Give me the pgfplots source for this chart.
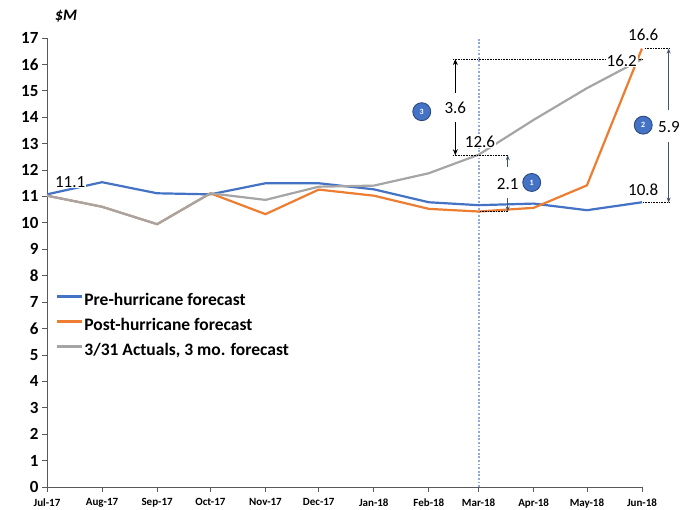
\documentclass[border=0pt]{standalone}
\usepackage{pgfplots}
\pgfplotsset{compat=1.18}
\usepackage{fontspec}
\setmainfont{Carlito}
\usetikzlibrary{arrows.meta}
\definecolor{cblue}{HTML}{4472C4}
\definecolor{corange}{HTML}{ED7D31}
\definecolor{cgray}{HTML}{A5A5A5}
\definecolor{darrow}{HTML}{44546A}
\definecolor{vline}{HTML}{8FAADC}
\begin{document}
\begin{tikzpicture}[x=1pt,y=1pt]
\begin{axis}[
  scale only axis, width=595pt, height=449pt,
  xmin=0, xmax=335, ymin=0, ymax=17,
  axis x line*=bottom, axis y line*=left,
  axis line style={black!65, line width=0.8pt},
  xtick={0,31,62,92,123,153,184,215,243,274,304,335},
  xticklabels={Jul-17,Aug-17,Sep-17,Oct-17,Nov-17,Dec-17,Jan-18,Feb-18,Mar-18,Apr-18,May-18,Jun-18},
  ytick={0,1,...,17},
  tick align=outside, major tick length=5pt,
  tick style={black!65, line width=0.8pt},
  xticklabel style={font=\bfseries\fontsize{11}{11}\selectfont, yshift=-3pt},
  yticklabel style={font=\bfseries\fontsize{17}{17}\selectfont},
  /pgf/number format/assume math mode=true,
  clip=false,
  legend cell align=left,
  legend style={at={(axis cs:4.5,7.36)}, anchor=north west, draw=none, fill=none,
    inner sep=0pt, row sep=7pt,
    font=\bfseries\fontsize{17.5}{17.5}\selectfont,
    nodes={inner sep=1pt, text height=12pt, text depth=4pt},
    /tikz/every even column/.append style={column sep=2pt}},
  legend image code/.code={\draw[#1] (0pt,5.5pt) -- (25pt,5.5pt);},
  legend image post style={line width=3.2pt},
]
\draw[vline, line width=1.8pt, dash pattern=on 1.8pt off 1.8pt] (axis cs:243,0) -- (axis cs:243,17);
\addplot[cblue, line width=2.2pt] coordinates {
 (0,11.08) (31,11.54) (62,11.12) (92,11.08) (123,11.5) (153,11.5) (184,11.27) (215,10.78) (243,10.67) (274,10.73) (304,10.48) (335,10.78)};
\addlegendentry{Pre-hurricane forecast}
\addplot[corange, line width=2.2pt] coordinates {
 (0,11.03) (31,10.61) (62,9.95) (92,11.12) (123,10.33) (153,11.26) (184,11.03) (215,10.53) (243,10.43) (274,10.57) (304,11.42) (335,16.6)};
\addlegendentry{Post-hurricane forecast}
\addplot[cgray, line width=2.2pt] coordinates {
 (0,11.03) (31,10.61) (62,9.95) (92,11.12) (123,10.87) (153,11.37) (184,11.41) (215,11.88) (243,12.58) (274,13.9) (304,15.1) (335,16.2)};
\addlegendentry{3/31 Actuals, 3 mo. forecast}
% dotted guide lines
\draw[black, line width=0.6pt, densely dotted] (axis cs:228.6,16.2) -- (axis cs:335,16.2);
\draw[black, line width=0.6pt, densely dotted] (axis cs:228.6,12.56) -- (axis cs:259.6,12.56);
\draw[black, line width=0.6pt, densely dotted] (axis cs:243.8,10.43) -- (axis cs:259.6,10.43);
\draw[black, line width=0.6pt, densely dotted] (axis cs:336.7,16.6) -- (axis cs:350.8,16.6);
\draw[black, line width=0.6pt, densely dotted] (axis cs:335.6,10.77) -- (axis cs:350.8,10.77);
% arrows
\draw[black, line width=1pt, -{Stealth[length=6pt,width=5pt]}] (axis cs:229.9,14.92) -- (axis cs:229.9,16.2);
\draw[black, line width=1pt, -{Stealth[length=6pt,width=5pt]}] (axis cs:229.9,13.83) -- (axis cs:229.9,12.56);
\draw[darrow, line width=0.8pt, -{Stealth[length=5pt,width=4pt]}] (axis cs:259.4,12.12) -- (axis cs:259.4,12.56);
\draw[darrow, line width=0.8pt, -{Stealth[length=5pt,width=4pt]}] (axis cs:259.4,10.94) -- (axis cs:259.4,10.43);
\draw[darrow, line width=0.8pt, -{Stealth[length=5pt,width=4pt]}] (axis cs:350,14.27) -- (axis cs:350,16.6);
\draw[darrow, line width=0.8pt, -{Stealth[length=5pt,width=4pt]}] (axis cs:350,13.07) -- (axis cs:350,10.77);
% labels
\tikzset{lab/.style={font=\fontsize{17}{17}\selectfont, inner sep=1pt, fill=white}}
\node[lab] at (axis cs:13,11.56) {11.1};
\node[lab] at (axis cs:243.8,13.08) {12.6};
\node[lab] at (axis cs:323.6,16.15) {16.2};
\node[lab] at (axis cs:229.9,14.34) {3.6};
\node[lab, fill=none] at (axis cs:259.4,11.48) {2.1};
\node[lab, fill=none] at (axis cs:350.2,13.64) {5.9};
\node[lab, fill=none] at (axis cs:335.7,17.12) {16.6};
\node[lab, fill=none] at (axis cs:335.7,11.27) {10.8};
\node[font=\bfseries\itshape\fontsize{16}{16}\selectfont] at (axis cs:10.7,17.83) {\$M};
% numbered circles
\tikzset{num/.style={circle, fill=cblue, draw=cblue!60!black, line width=0.8pt, minimum size=18pt, inner sep=0pt, text=white, font=\bfseries\fontsize{8}{8}\selectfont}}
\node[num] at (axis cs:211,14.21) {3};
\node[num] at (axis cs:272.9,11.53) {1};
\node[num] at (axis cs:335.7,13.7) {2};
\end{axis}
\pgfresetboundingbox
\path[use as bounding box] (-47pt,-23pt) rectangle (642pt,487pt);
\end{tikzpicture}
\end{document}
